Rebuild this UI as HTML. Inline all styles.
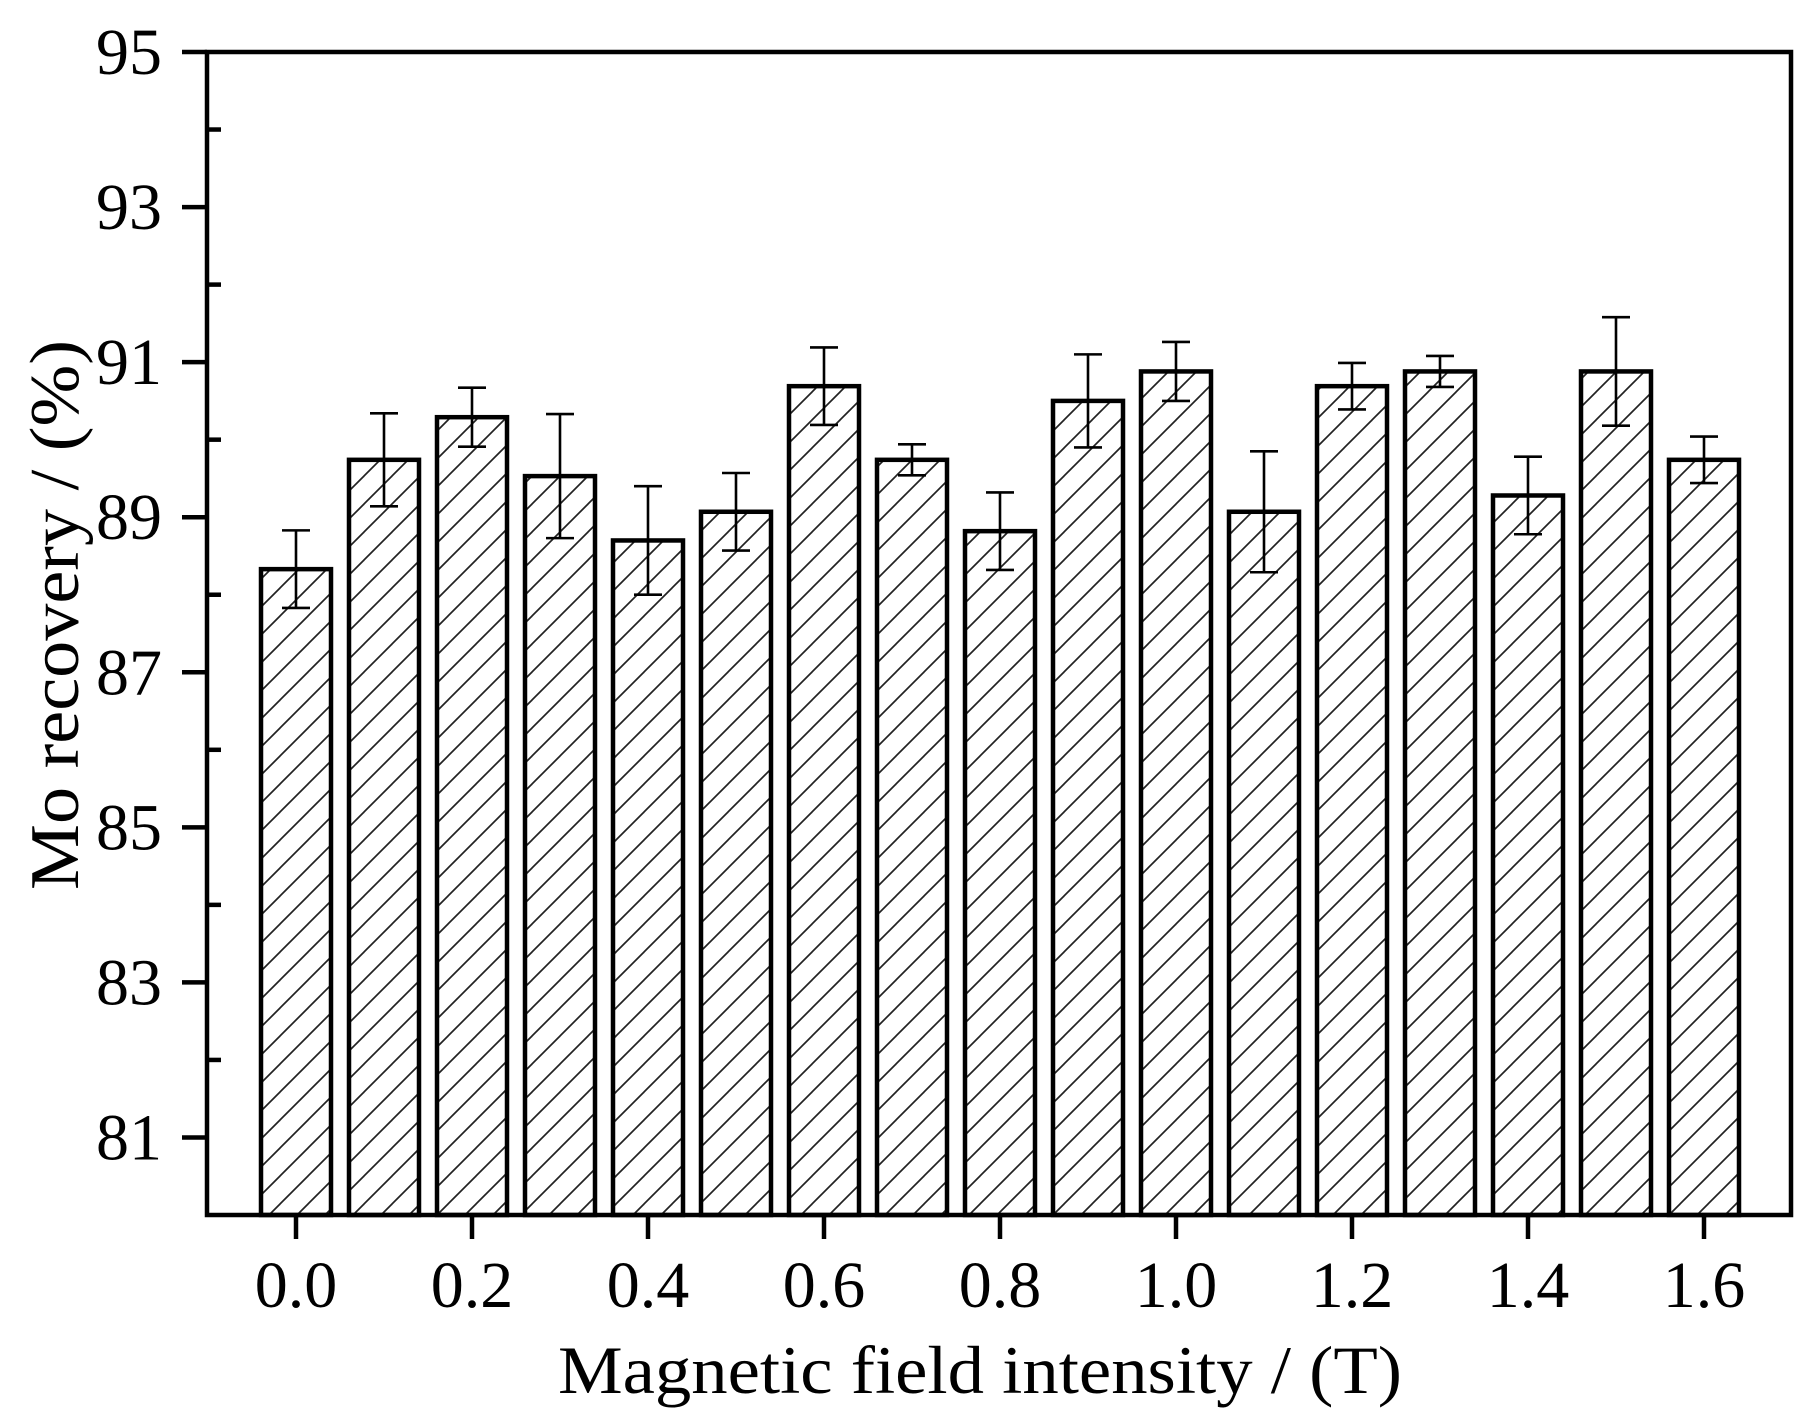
<!DOCTYPE html>
<html><head><meta charset="utf-8"><style>
html,body{margin:0;padding:0;background:#fff;}
svg{display:block;font-family:"Liberation Serif",serif;}
</style></head><body>
<svg id="chart" width="1819" height="1423" viewBox="0 0 1819 1423" xmlns="http://www.w3.org/2000/svg">
<defs>
<pattern id="hatch" patternUnits="userSpaceOnUse" width="28" height="28">
<line x1="-2" y1="30" x2="30" y2="-2" stroke="#222" stroke-width="1.7"/>
<line x1="-30" y1="30" x2="2" y2="-2" stroke="#222" stroke-width="1.7"/>
<line x1="26" y1="30" x2="58" y2="-2" stroke="#222" stroke-width="1.7"/>
</pattern>
</defs>
<g id="bars"></g>
<g id="axes"></g>
</svg>
<script>
const categories = ["0.0","0.1","0.2","0.3","0.4","0.5","0.6","0.7","0.8","0.9","1.0","1.1","1.2","1.3","1.4","1.5","1.6"];
const xValues = [0.0,0.1,0.2,0.3,0.4,0.5,0.6,0.7,0.8,0.9,1.0,1.1,1.2,1.3,1.4,1.5,1.6];
const recovery = [88.33,89.74,90.29,89.53,88.70,89.07,90.69,89.74,88.82,90.50,90.88,89.07,90.69,90.88,89.28,90.88,89.74];
const errors = [0.50,0.60,0.38,0.80,0.70,0.50,0.50,0.20,0.50,0.60,0.38,0.78,0.30,0.20,0.50,0.70,0.30];
const yTicks = [81,83,85,87,89,91,93,95];
const yMinorTicks = [82,84,86,88,90,92,94];
const xTicks = [0.0,0.2,0.4,0.6,0.8,1.0,1.2,1.4,1.6];
const xTickLabels = ["0.0","0.2","0.4","0.6","0.8","1.0","1.2","1.4","1.6"];

const NS = "http://www.w3.org/2000/svg";
const L = 207, R = 1791, T = 52, B = 1215;
const yMin = 80, yMax = 95;
function y(v){ return B - (v - yMin) / (yMax - yMin) * (B - T); }
function x(v){ return 296 + v * 880; }
const barW = 70, capW = 28;

function mk(tag, attrs, parent){
  const e = document.createElementNS(NS, tag);
  for (const k in attrs) e.setAttribute(k, attrs[k]);
  parent.appendChild(e);
  return e;
}
const bars = document.getElementById('bars');
const axes = document.getElementById('axes');

recovery.forEach((v, i) => {
  const cx = x(xValues[i]);
  const r = mk('rect', {x: cx - barW/2, y: y(v), width: barW, height: B - y(v), fill: 'url(#hatch)', stroke: '#000', 'stroke-width': 4.5}, bars);
  
  
  const e = errors[i];
  const g = mk('g', {stroke: '#000', 'stroke-width': 2.6}, bars);
  
  
  mk('line', {x1: cx, x2: cx, y1: y(v + e), y2: y(v - e)}, g);
  mk('line', {x1: cx - capW/2, x2: cx + capW/2, y1: y(v + e), y2: y(v + e)}, g);
  mk('line', {x1: cx - capW/2, x2: cx + capW/2, y1: y(v - e), y2: y(v - e)}, g);
});

const frame = mk('rect', {x: L, y: T, width: R - L, height: B - T, fill: 'none', stroke: '#000', 'stroke-width': 4.5}, axes);



yTicks.forEach(t => {
  const ln = mk('line', {x1: L - 25, x2: L, y1: y(t), y2: y(t), stroke: '#000', 'stroke-width': 4.5}, axes);
  
  
  const tx = mk('text', {x: 162, y: y(t) + 22, 'font-size': 66, 'text-anchor': 'end', fill: '#000'}, axes);
  tx.textContent = t;
  
  
});
yMinorTicks.forEach(t => {
  const ln = mk('line', {x1: L, x2: L + 14, y1: y(t), y2: y(t), stroke: '#000', 'stroke-width': 4.5}, axes);
  
  
});
xTicks.forEach((t, i) => {
  const ln = mk('line', {x1: x(t), x2: x(t), y1: B, y2: B + 24, stroke: '#000', 'stroke-width': 4.5}, axes);
  
  
  const tx = mk('text', {x: x(t), y: 1307, 'font-size': 66, 'text-anchor': 'middle', fill: '#000'}, axes);
  tx.textContent = xTickLabels[i];
  
  
});

const xt = mk('text', {x: 980, y: 1393, 'font-size': 68, 'text-anchor': 'middle', textLength: 844, lengthAdjust: 'spacingAndGlyphs', fill: '#000'}, axes);
xt.textContent = 'Magnetic field intensity / (T)';



const yt = mk('text', {x: 0, y: 0, 'font-size': 70, 'text-anchor': 'middle', textLength: 550, lengthAdjust: 'spacingAndGlyphs', fill: '#000', transform: 'translate(78,615) rotate(-90)'}, axes);
yt.textContent = 'Mo recovery / (%)';


</script>
</body></html>
